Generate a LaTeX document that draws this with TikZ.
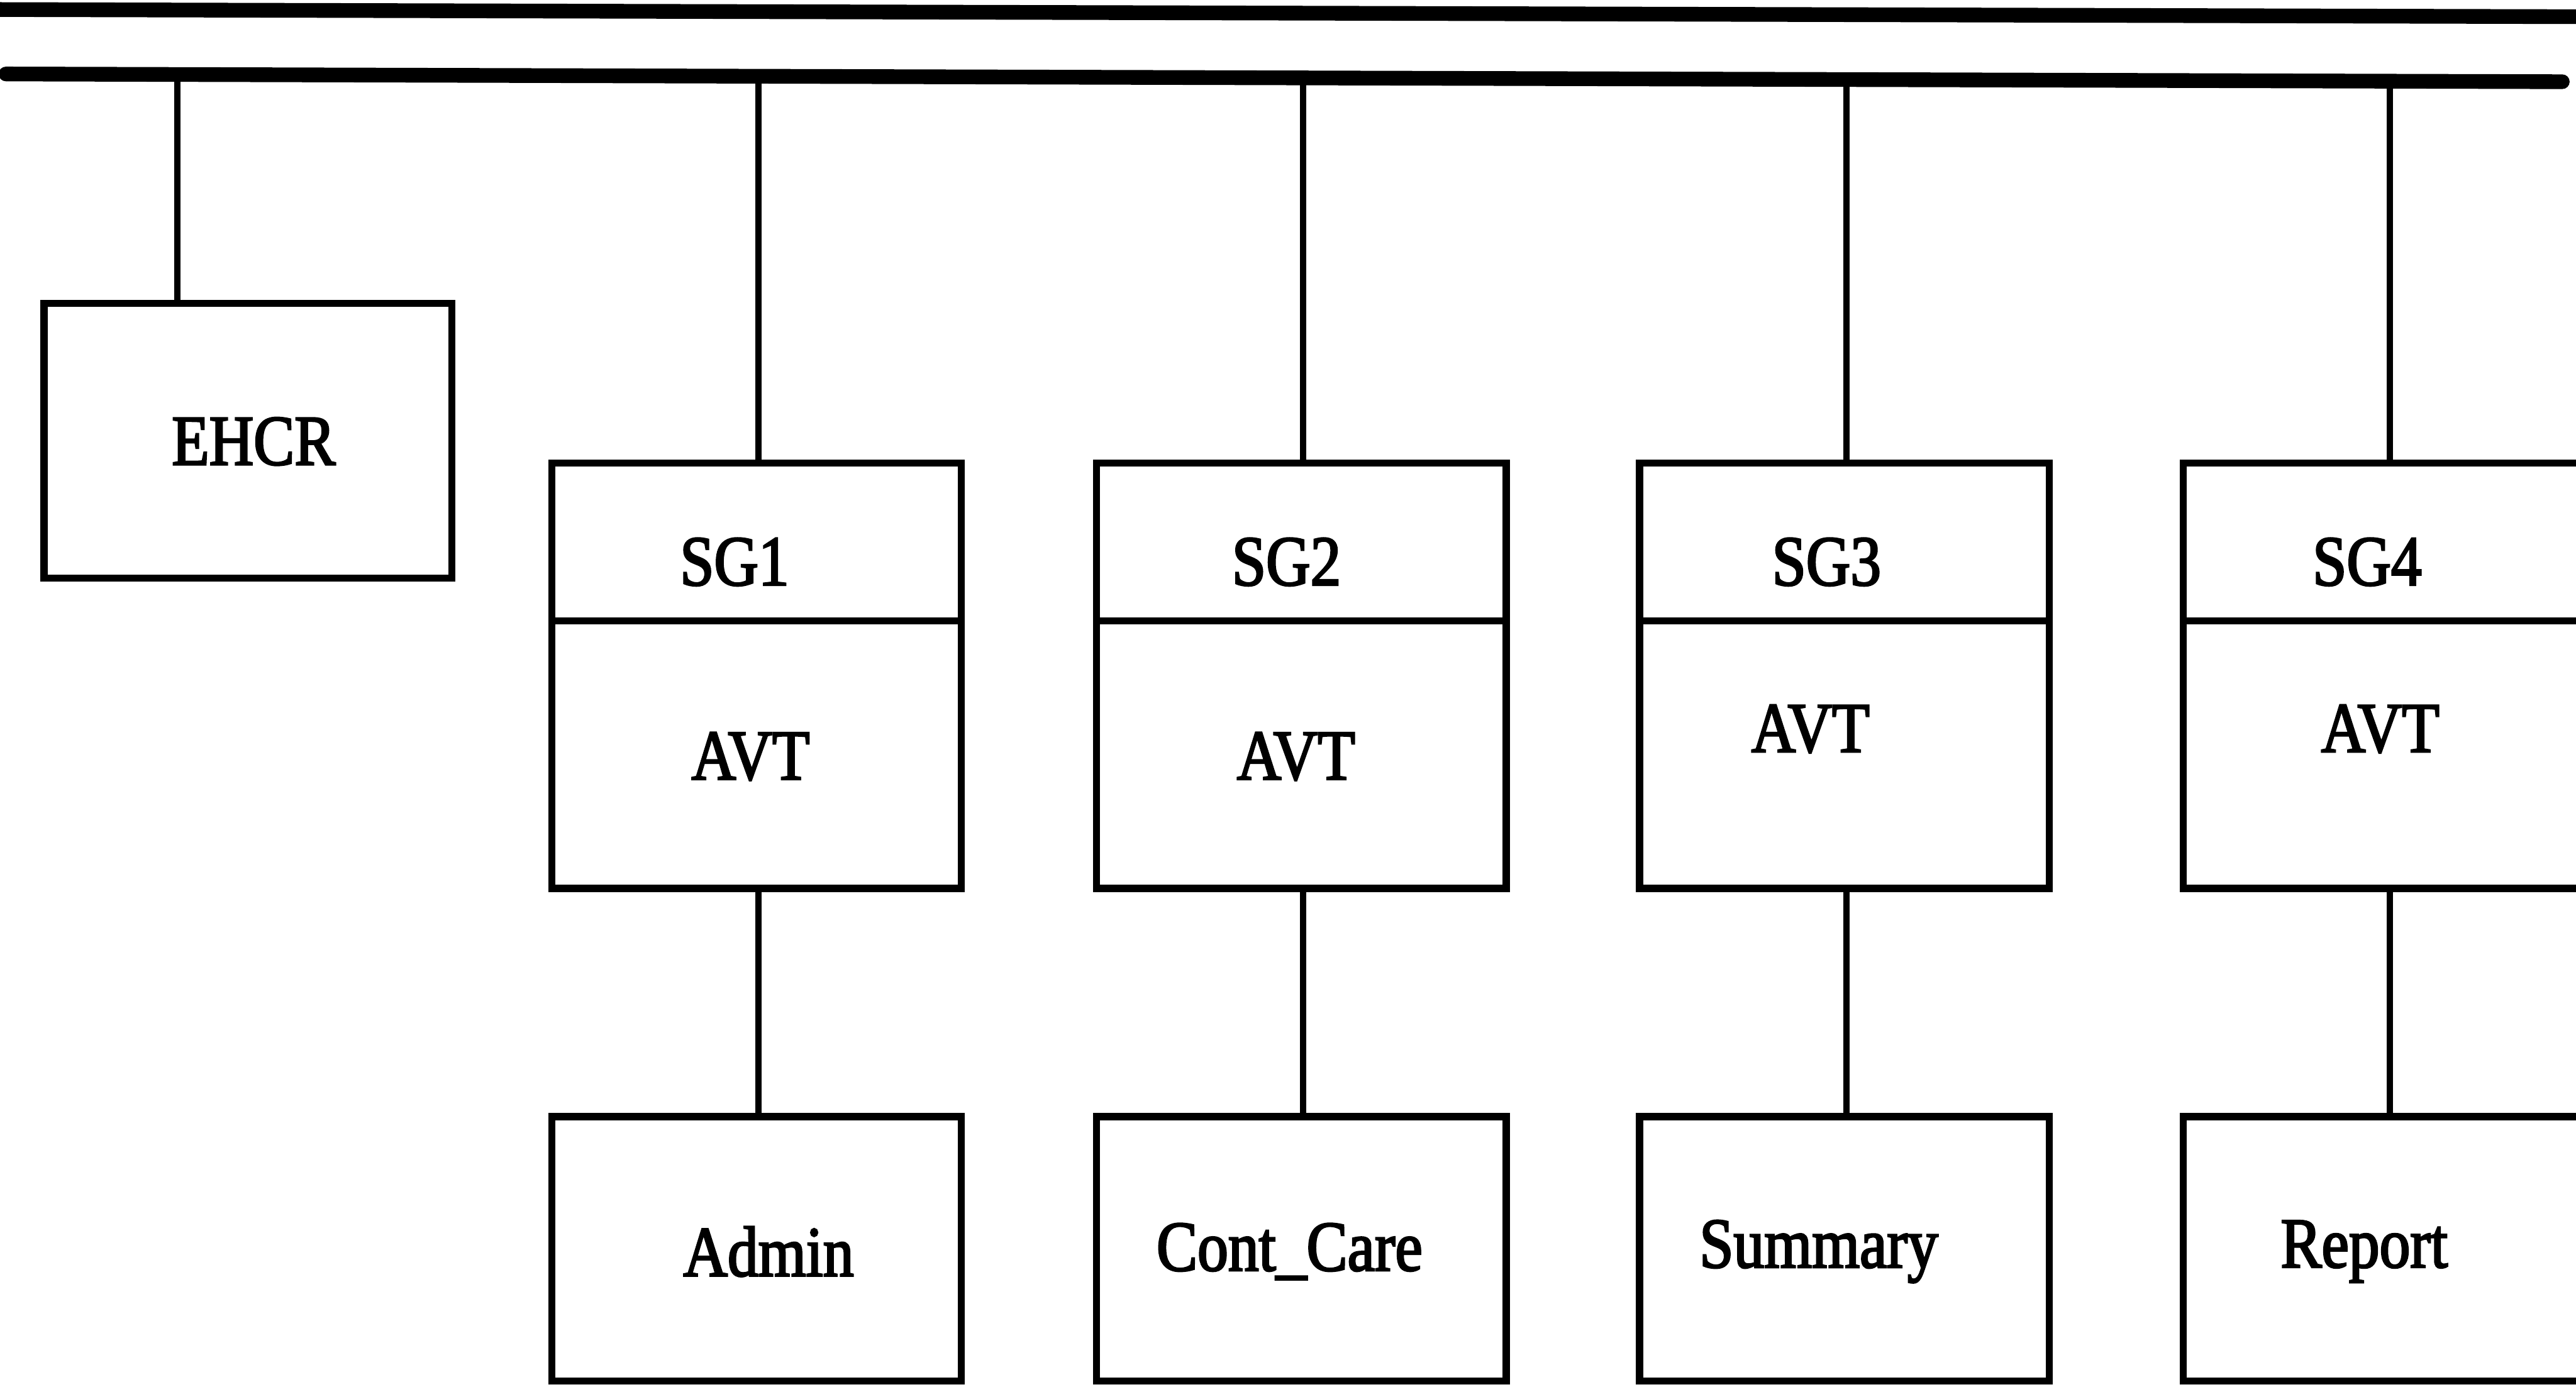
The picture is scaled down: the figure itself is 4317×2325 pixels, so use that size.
\documentclass[tikz,border=0pt]{standalone}
\usepackage{fontspec}
\setmainfont{Liberation Serif}
\newfontfamily\scanfont{Liberation Serif}[FakeBold=2.5,FakeStretch=0.86]
\begin{document}
\begin{tikzpicture}[x=0.01cm,y=-0.01cm,
  box/.style={draw=black,line width=3.4pt,rectangle,inner sep=0pt,minimum width=6.86cm},
  lab/.style={font=\scanfont\fontsize{34}{36}\selectfont,inner sep=0pt},
  bus/.style={line width=7pt},
  wire/.style={line width=3pt}]
\useasboundingbox (0,0) rectangle (4317,2325);
\clip (0,0) rectangle (4317,2325);
% bus lines
\coordinate (topL) at (0,16);
\coordinate (topR) at (4317,28);
\coordinate (busL) at (10,124);
\coordinate (busR) at (4294,137);
\coordinate (busM) at (0,131);
\draw[bus] (topL) -- (topR);
\draw[bus,line cap=round] (busL) -- (busR);
% EHCR
\node[box,minimum width=6.83cm,minimum height=4.6cm] (ehcr) at (415.5,739) {};
\node[lab] (tehcr) at (425,740) {EHCR};
% SG columns
\foreach \i/\cx in {1/1268,2/2181,3/3091,4/4002}{
  \node[box,minimum height=2.65cm] (sg\i) at (\cx,908.5) {};
  \node[box,minimum height=4.48cm] (avt\i) at (\cx,1265) {};
  \node[box,minimum height=4.43cm] (leaf\i) at (\cx,2093.5) {};
}
% labels
\node[lab] (tsg1) at (1231,942) {SG1};
\node[lab] (tsg2) at (2156,942) {SG2};
\node[lab] (tsg3) at (3061,942) {SG3};
\node[lab] (tsg4) at (3967,942) {SG4};
\node[lab] (tavt1) at (1258,1268) {AVT};
\node[lab] (tavt2) at (2172,1268) {AVT};
\node[lab] (tavt3) at (3034,1222) {AVT};
\node[lab] (tavt4) at (3989,1222) {AVT};
\node[lab] (tl1) at (1288,2098) {Admin};
\node[lab] (tl2) at (2161,2098) {Cont\_Care};
\node[lab] (tl3) at (3048,2098) {Summary};
\node[lab] (tl4) at (3962,2098) {Report};
% connectors
\draw[wire] ([xshift=2.29cm]ehcr.north west) -- ([xshift=2.29cm]ehcr.north west |- busM);
\foreach \i in {1,2,3,4}{
  \draw[wire] ([xshift=0.03cm]sg\i.north) -- ([xshift=0.03cm]sg\i.north |- busM);
  \draw[wire] ([xshift=0.03cm]avt\i.south) -- ([xshift=0.03cm]leaf\i.north);
}
\end{tikzpicture}
\end{document}
